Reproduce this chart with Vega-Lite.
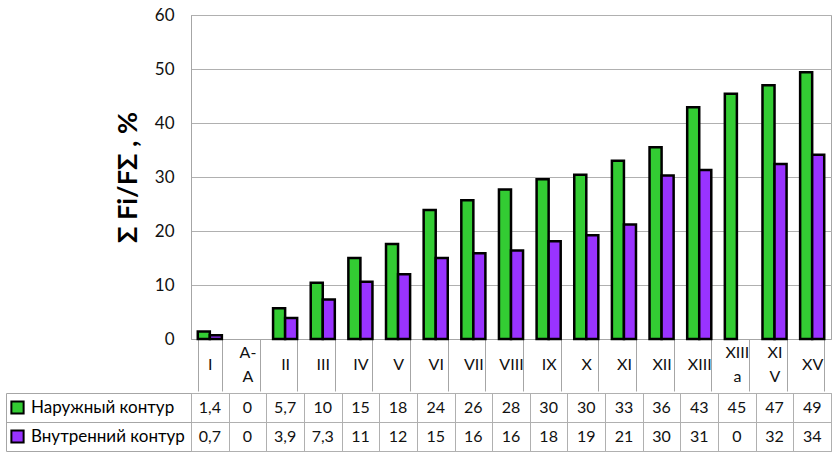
{
  "$schema": "https://vega.github.io/schema/vega-lite/v6.json",
  "padding": {"left": 5, "top": 5, "right": 8, "bottom": 5},
  "config": {
    "font": "Lato",
    "view": {"stroke": "#a6a6a6", "strokeWidth": 1},
    "axis": {"gridColor": "#b0b0b0", "domainColor": "#a6a6a6", "tickColor": "#a6a6a6", "labelFont": "Lato", "titleFont": "Lato", "labelColor": "#111", "titleColor": "#000"}
  },
  "data": {"values": [
    {"cat": "I", "series": "Наружный контур", "value": 1.4, "label": "1,4"},
    {"cat": "A-A", "series": "Наружный контур", "value": 0, "label": "0"},
    {"cat": "II", "series": "Наружный контур", "value": 5.7, "label": "5,7"},
    {"cat": "III", "series": "Наружный контур", "value": 10.4, "label": "10"},
    {"cat": "IV", "series": "Наружный контур", "value": 15.0, "label": "15"},
    {"cat": "V", "series": "Наружный контур", "value": 17.6, "label": "18"},
    {"cat": "VI", "series": "Наружный контур", "value": 23.9, "label": "24"},
    {"cat": "VII", "series": "Наружный контур", "value": 25.7, "label": "26"},
    {"cat": "VIII", "series": "Наружный контур", "value": 27.7, "label": "28"},
    {"cat": "IX", "series": "Наружный контур", "value": 29.6, "label": "30"},
    {"cat": "X", "series": "Наружный контур", "value": 30.4, "label": "30"},
    {"cat": "XI", "series": "Наружный контур", "value": 33.0, "label": "33"},
    {"cat": "XII", "series": "Наружный контур", "value": 35.5, "label": "36"},
    {"cat": "XIII", "series": "Наружный контур", "value": 42.9, "label": "43"},
    {"cat": "XIIIa", "series": "Наружный контур", "value": 45.4, "label": "45"},
    {"cat": "XIV", "series": "Наружный контур", "value": 47.0, "label": "47"},
    {"cat": "XV", "series": "Наружный контур", "value": 49.4, "label": "49"},
    {"cat": "I", "series": "Внутренний контур", "value": 0.7, "label": "0,7"},
    {"cat": "A-A", "series": "Внутренний контур", "value": 0, "label": "0"},
    {"cat": "II", "series": "Внутренний контур", "value": 3.9, "label": "3,9"},
    {"cat": "III", "series": "Внутренний контур", "value": 7.3, "label": "7,3"},
    {"cat": "IV", "series": "Внутренний контур", "value": 10.6, "label": "11"},
    {"cat": "V", "series": "Внутренний контур", "value": 12.0, "label": "12"},
    {"cat": "VI", "series": "Внутренний контур", "value": 15.0, "label": "15"},
    {"cat": "VII", "series": "Внутренний контур", "value": 15.9, "label": "16"},
    {"cat": "VIII", "series": "Внутренний контур", "value": 16.4, "label": "16"},
    {"cat": "IX", "series": "Внутренний контур", "value": 18.1, "label": "18"},
    {"cat": "X", "series": "Внутренний контур", "value": 19.2, "label": "19"},
    {"cat": "XI", "series": "Внутренний контур", "value": 21.2, "label": "21"},
    {"cat": "XII", "series": "Внутренний контур", "value": 30.3, "label": "30"},
    {"cat": "XIII", "series": "Внутренний контур", "value": 31.3, "label": "31"},
    {"cat": "XIIIa", "series": "Внутренний контур", "value": 0, "label": "0"},
    {"cat": "XIV", "series": "Внутренний контур", "value": 32.4, "label": "32"},
    {"cat": "XV", "series": "Внутренний контур", "value": 34.1, "label": "34"}
  ]},
  "spacing": 0,
  "resolve": {"scale": {"x": "independent", "y": "independent"}},
  "vconcat": [
    {
      "width": 640,
      "height": 324,
      "transform": [{"filter": "datum.value > 0"}],
      "mark": {"type": "bar", "stroke": "black", "strokeWidth": 2.5, "opacity": 1},
      "encoding": {
        "x": {
          "field": "cat", "type": "nominal",
          "scale": {"domain": ["I", "A-A", "II", "III", "IV", "V", "VI", "VII", "VIII", "IX", "X", "XI", "XII", "XIII", "XIIIa", "XIV", "XV"], "paddingInner": 0.36, "paddingOuter": 0.18},
          "axis": {
            "title": null, "tickBand": "extent", "tickSize": 52, "labelAngle": 0,
            "labelExpr": "datum.label == 'A-A' ? ['A-', 'A'] : datum.label == 'XIIIa' ? ['XIII', 'a'] : datum.label == 'XIV' ? ['XI', 'V'] : datum.label",
            "labelBaseline": {"condition": {"test": "indexof(['A-A', 'XIIIa', 'XIV'], datum.value) >= 0", "value": "line-bottom"}, "value": "middle"},
            "labelPadding": -27, "labelFontSize": 16, "labelLineHeight": 24
          }
        },
        "xOffset": {"field": "series", "type": "nominal", "sort": ["Наружный контур", "Внутренний контур"]},
        "y": {
          "field": "value", "type": "quantitative",
          "scale": {"domain": [0, 60]},
          "axis": {"title": "Σ Fi/FΣ , %", "titleFontSize": 27, "titleFontWeight": "bold", "titlePadding": 12, "values": [0, 10, 20, 30, 40, 50, 60], "labelFontSize": 17, "labelPadding": 17, "ticks": false}
        },
        "color": {
          "field": "series", "type": "nominal",
          "scale": {"domain": ["Наружный контур", "Внутренний контур"], "range": ["#33cc33", "#9933ff"]},
          "legend": {"title": null, "orient": "none", "legendX": -182, "legendY": 384, "padding": 0, "symbolType": "square", "symbolSize": 150, "symbolStrokeColor": "black", "symbolStrokeWidth": 2, "symbolOpacity": 1, "labelFontSize": 17, "labelColor": "#000", "rowPadding": 8, "labelOffset": 5}
        }
      }
    },
    {
      "width": 640,
      "height": 58,
      "mark": {"type": "text", "fontSize": 16, "color": "#111"},
      "encoding": {
        "x": {
          "field": "cat", "type": "nominal",
          "scale": {"domain": ["I", "A-A", "II", "III", "IV", "V", "VI", "VII", "VIII", "IX", "X", "XI", "XII", "XIII", "XIIIa", "XIV", "XV"], "paddingInner": 0, "paddingOuter": 0},
          "axis": {"orient": "bottom", "title": null, "tickBand": "extent", "grid": true, "labels": false, "ticks": false, "domain": false}
        },
        "y": {
          "field": "series", "type": "nominal",
          "scale": {"domain": ["Наружный контур", "Внутренний контур"], "paddingInner": 0, "paddingOuter": 0},
          "axis": {"title": null, "offset": 185, "tickBand": "extent", "tickSize": -185, "labels": false, "grid": true, "domain": true}
        },
        "text": {"field": "label"}
      }
    }
  ]
}
